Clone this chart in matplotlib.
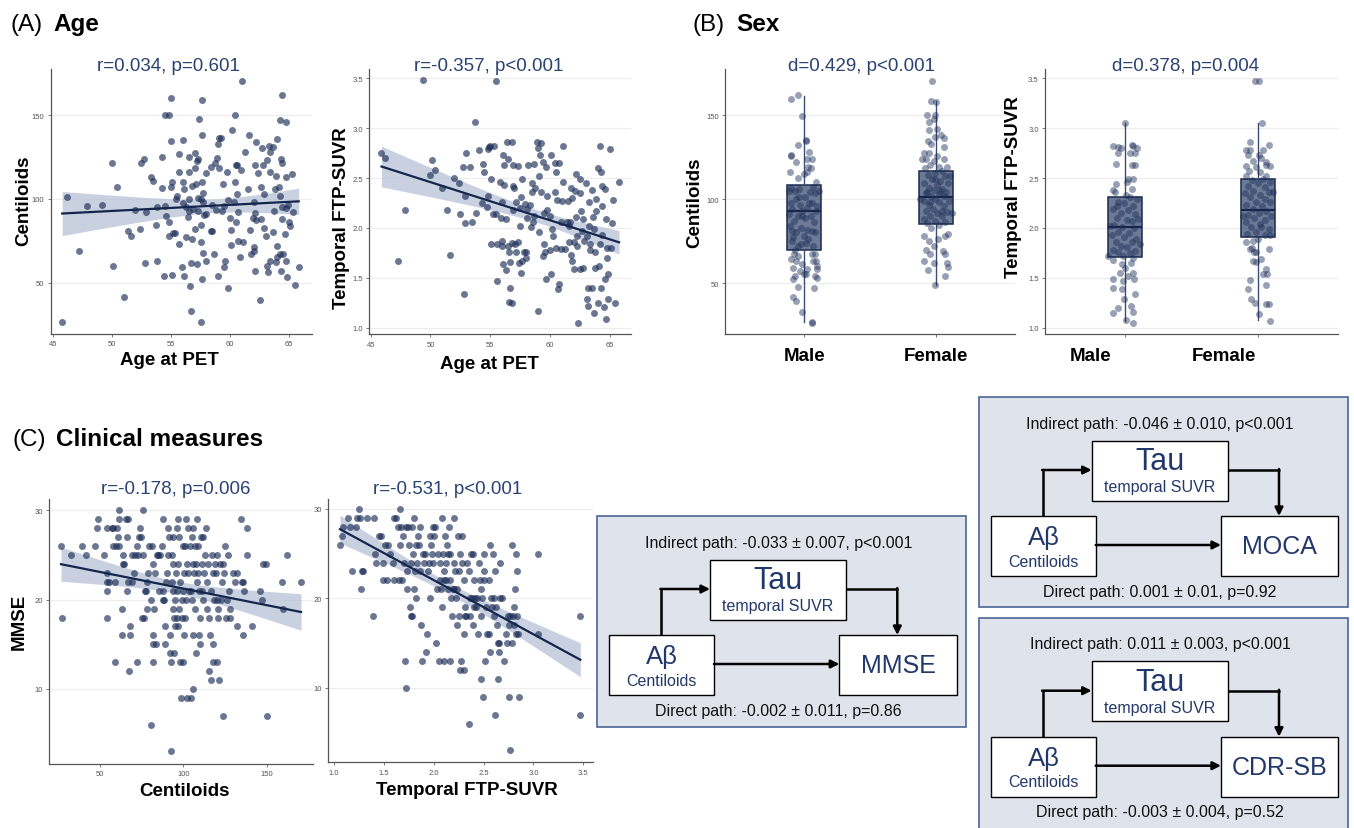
import numpy as np
import matplotlib
matplotlib.use("Agg")
import matplotlib.pyplot as plt
from matplotlib.patches import Rectangle
from matplotlib.transforms import ScaledTranslation

plt.rcParams['font.family'] = ['Liberation Sans', 'DejaVu Sans']

# ---------------- data ----------------
# (A) age vs centiloids
age1 = [45.8, 46.2, 47.2, 47.9, 49.2, 50.0, 50.1, 50.4, 51.0, 51.4,
        51.6, 52.0, 52.4, 52.5, 52.7, 52.8, 52.9, 53.3, 53.5, 53.7,
        53.8, 53.8, 54.2, 54.2, 54.4, 54.5, 54.5, 54.8, 54.6, 54.8,
        54.8, 55.0, 55.0, 55.0, 55.1, 55.2, 55.1, 55.3, 55.4, 55.5,
        55.7, 55.7, 55.7, 55.9, 56.0, 56.0, 56.0, 56.1, 56.1, 56.3,
        56.3, 56.4, 56.5, 56.5, 56.5, 56.5, 56.6, 56.7, 56.7, 56.8,
        56.8, 56.9, 57.0, 57.0, 57.0, 57.1, 57.2, 57.2, 57.3, 57.3,
        57.3, 57.4, 57.5, 57.6, 57.5, 57.5, 57.5, 57.6, 57.6, 57.6,
        57.7, 57.7, 57.7, 57.8, 58.0, 58.0, 58.0, 58.4, 58.4, 58.5,
        58.5, 58.6, 58.7, 58.8, 58.9, 59.0, 59.0, 59.1, 59.2, 59.1,
        59.3, 59.4, 59.5, 59.5, 59.6, 59.7, 59.8, 59.8, 60.0, 60.1,
        60.2, 60.1, 60.3, 60.4, 60.4, 60.5, 60.6, 60.5, 60.6, 60.7,
        60.8, 60.7, 60.9, 61.0, 61.1, 61.3, 61.5, 61.6, 61.7, 61.8,
        61.9, 62.0, 62.0, 62.0, 62.1, 62.2, 62.1, 62.1, 62.2, 62.4,
        62.5, 62.6, 62.6, 62.7, 62.8, 62.9, 62.9, 63.0, 63.1, 63.1,
        63.2, 63.3, 63.4, 63.4, 63.4, 63.6, 63.6, 63.7, 63.8, 63.9,
        63.9, 64.0, 64.0, 64.1, 64.0, 64.2, 64.2, 64.3, 64.4, 64.2,
        64.3, 64.4, 64.4, 64.4, 64.5, 64.7, 64.6, 64.7, 64.7, 64.7,
        64.8, 64.9, 65.1, 65.0, 65.2, 65.3, 65.5, 65.8]
cl1 = [27, 101, 69, 96, 96.6, 121.6, 60, 107, 41.7, 81,
       78, 93.7, 82, 121.4, 124, 61.7, 92.5, 113, 111, 84.5,
       63.3, 95.2, 124.8, 106.7, 54.4, 96, 150, 150, 90, 86,
       77.8, 134.7, 160, 107, 110, 80, 55, 80, 100, 102,
       116, 126.8, 73.2, 59.7, 135, 110, 97.6, 54.4, 106, 95.2,
       77.2, 89.5, 125, 116, 92.9, 100, 48.4, 33, 62, 108,
       76, 94, 127.4, 118.3, 82, 108.7, 122.8, 61, 124, 100.4,
       93, 147.6, 26.6, 159, 100, 84.7, 74.6, 110, 138, 52.4,
       67.7, 98.4, 103.4, 90.7, 115.5, 91, 63.3, 118.8, 81, 81,
       96.6, 67.3, 121.2, 93.7, 124.2, 132.7, 54.4, 136.3, 136.3, 118.5,
       93, 109, 96, 59.3, 63.3, 116, 47.2, 99.4, 88.5, 72.6,
       141, 81.7, 98, 150, 110.3, 86.5, 120, 120, 102.8, 75.2,
       65.5, 92, 117, 170.4, 74.6, 128.2, 106, 138, 81.7, 67,
       88.5, 71.2, 98.4, 69.2, 120, 133.7, 57.1, 91.7, 87.7, 115.5,
       39.9, 88, 107, 130.2, 120, 103, 83, 77.8, 123.4, 60,
       56.3, 131.7, 115.9, 63.3, 127.8, 80.6, 130.8, 93, 106, 62.3,
       113.5, 71.8, 65.5, 107.3, 135.7, 67, 101.6, 57.1, 88, 146.8,
       123.8, 161.9, 95, 121.2, 67.3, 63.1, 79.2, 112.9, 94.4, 145.6,
       53.4, 96.6, 83.7, 86, 115, 92.5, 48.8, 59.3]

# (A) age vs temporal FTP-SUVR
age2 = [45.9, 46.2, 47.9, 47.3, 49.4, 50.0, 50.1, 50.4, 51.0, 51.4,
        51.6, 52.0, 52.4, 52.5, 52.7, 52.8, 52.9, 52.9, 53.0, 53.3,
        53.5, 53.7, 53.8, 54.1, 54.3, 54.4, 54.5, 54.7, 54.8, 54.8,
        54.9, 55.0, 55.1, 55.1, 55.2, 55.3, 55.5, 55.5, 55.6, 55.6,
        55.8, 55.9, 56.0, 56.0, 56.0, 56.1, 56.1, 56.2, 56.2, 56.3,
        56.3, 56.4, 56.5, 56.5, 56.6, 56.6, 56.7, 56.7, 56.8, 56.8,
        56.8, 56.9, 56.9, 56.9, 57.0, 57.1, 57.2, 57.2, 57.3, 57.3,
        57.4, 57.5, 57.5, 57.6, 57.6, 57.7, 57.7, 57.8, 57.9, 58.0,
        58.0, 58.1, 58.1, 58.2, 58.3, 58.4, 58.5, 58.5, 58.6, 58.7,
        58.7, 58.8, 58.9, 59.0, 59.0, 59.1, 59.1, 59.2, 59.3, 59.3,
        59.4, 59.4, 59.5, 59.5, 59.6, 59.7, 59.7, 59.8, 59.8, 60.0,
        60.0, 60.1, 60.1, 60.2, 60.3, 60.4, 60.4, 60.5, 60.5, 60.6,
        60.7, 60.8, 60.8, 60.9, 60.9, 61.0, 61.1, 61.1, 61.3, 61.4,
        61.5, 61.6, 61.6, 61.7, 61.8, 61.8, 61.9, 61.9, 62.0, 62.0,
        62.1, 62.2, 62.2, 62.3, 62.3, 62.4, 62.5, 62.5, 62.5, 62.6,
        62.7, 62.8, 62.8, 62.9, 63.0, 63.1, 63.1, 63.2, 63.2, 63.3,
        63.3, 63.4, 63.4, 63.5, 63.5, 63.6, 63.7, 63.7, 63.8, 63.8,
        63.9, 63.9, 64.0, 64.0, 64.1, 64.2, 64.2, 64.3, 64.3, 64.4,
        64.4, 64.4, 64.5, 64.6, 64.6, 64.7, 64.7, 64.8, 64.8, 64.9,
        64.9, 65.0, 65.1, 65.2, 65.3, 65.5, 65.8]
ftp2 = [2.75, 2.70, 2.18, 1.67, 3.48, 2.53, 2.68, 2.58, 2.40, 2.18,
        1.73, 2.50, 2.45, 2.14, 2.61, 1.34, 2.05, 2.32, 2.75, 2.61,
        2.06, 3.06, 2.15, 2.78, 2.25, 2.64, 2.56, 2.21, 2.32, 2.79,
        2.81, 2.82, 2.49, 1.84, 2.14, 2.82, 3.47, 2.14, 1.84, 1.47,
        2.46, 2.10, 1.87, 2.26, 1.82, 2.73, 1.64, 2.63, 2.43, 2.09,
        1.58, 2.86, 2.69, 1.82, 1.26, 1.76, 1.40, 1.66, 1.85, 2.86,
        1.25, 2.18, 2.42, 2.63, 2.40, 1.84, 2.26, 1.76, 2.62, 1.86,
        1.65, 2.02, 2.20, 2.31, 1.55, 2.49, 1.67, 1.76, 2.24, 1.76,
        1.70, 2.19, 2.10, 2.63, 2.23, 2.01, 2.45, 2.36, 2.06, 2.12,
        2.64, 2.40, 2.86, 2.80, 1.17, 2.52, 1.96, 2.73, 2.85, 2.36,
        1.72, 2.66, 2.15, 1.84, 1.76, 2.61, 1.49, 2.18, 2.32, 1.78,
        2.12, 1.54, 2.73, 1.99, 1.92, 2.36, 2.65, 1.80, 2.56, 2.28,
        1.39, 1.44, 2.65, 2.06, 1.79, 2.27, 2.46, 2.82, 1.79, 2.06,
        2.27, 2.02, 1.86, 2.06, 1.73, 2.40, 2.30, 1.67, 1.86, 1.59,
        2.37, 2.54, 2.11, 1.92, 1.82, 1.05, 1.59, 2.49, 2.35, 2.17,
        1.97, 2.09, 1.60, 1.87, 2.45, 1.29, 1.92, 1.40, 1.22, 2.02,
        2.26, 1.78, 1.84, 1.40, 2.38, 2.11, 1.15, 1.99, 1.76, 1.60,
        2.17, 2.29, 1.25, 2.60, 1.62, 1.84, 2.82, 1.40, 2.56, 2.22,
        1.93, 2.42, 1.21, 1.49, 2.39, 2.09, 1.09, 1.70, 1.80, 1.54,
        1.29, 2.79, 1.80, 2.05, 2.28, 1.25, 2.46]

# (B) sex groups: jitter offsets and values
sex_labels = ['Male', 'Female']
m_cl_dx = [-0.096, -0.045, -0.013, 0.018, 0.013, -0.043, -0.096, -0.096, 0.038, 0.025,
           0.063, 0.033, 0.053, -0.063, 0.0, 0.020, -0.106, -0.050, 0.088, 0.068,
           -0.101, -0.068, -0.038, 0.043, 0.083, 0.008, -0.063, -0.101, -0.033, 0.063,
           0.025, -0.088, -0.013, -0.045, 0.050, 0.093, -0.113, 0.008, -0.076, 0.076,
           -0.025, 0.025, -0.093, -0.058, 0.058, 0.083, 0.0, -0.081, 0.033, -0.088,
           -0.025, 0.068, -0.050, -0.068, -0.078, 0.083, 0.058, -0.043, -0.101, -0.063,
           0.071, 0.088, -0.013, 0.101, -0.083, 0.025, 0.096, -0.033, 0.0, 0.018,
           -0.068, 0.083, 0.096, -0.081, -0.050, 0.078, -0.083, -0.058, -0.013, 0.058,
           0.063, -0.038, 0.038, -0.018, -0.113, 0.113, 0.101, -0.108, 0.018]
m_cl = [159.5, 161.9, 149.6, 135.1, 134.7, 132.1, 126.2, 125.4, 127.8, 123.8,
        123.8, 119.4, 118.3, 121.8, 114.9, 115.9, 115.9, 112.3, 109.9, 107.5,
        106.9, 105, 106.3, 104.4, 103.6, 101, 100, 97.6, 96.8, 97.6,
        95, 94.4, 93, 90, 90, 93, 91, 88.5, 87.1, 86.1,
        83.1, 81.7, 81.2, 80.6, 81.2, 80.2, 78.2, 77.2, 76.2, 75.2,
        73.2, 72.2, 72.2, 69.8, 67.3, 67.3, 67.3, 66.3, 64.3, 63.3,
        63.1, 63.1, 61.3, 60.3, 59.3, 58.7, 58.7, 57.1, 55.4, 55.4,
        54.4, 54.4, 53.2, 52.4, 47.8, 47.2, 41.7, 39.5, 33, 27,
        26.6, 101, 97.6, 90, 105, 105, 96, 84, 74.2]
f_cl_dx = [-0.030, -0.038, 0.0, -0.068, -0.005, -0.018, -0.055, -0.050, 0.008, 0.040,
           0.065, -0.010, -0.060, -0.035, 0.058, -0.093, -0.050, 0.008, 0.058, -0.076,
           -0.018, -0.043, 0.020, 0.083, -0.086, 0.045, -0.005, -0.060, 0.071, -0.030,
           0.033, -0.093, 0.091, 0.008, -0.055, 0.045, -0.018, 0.076, -0.076, 0.020,
           -0.035, 0.058, -0.005, -0.093, 0.096, 0.025, -0.055, 0.058, -0.023, -0.076,
           0.083, 0.008, -0.043, 0.045, -0.093, -0.010, 0.071, -0.068, 0.025, -0.035,
           -0.091, 0.091, 0.071, -0.055, 0.015, -0.018, -0.076, 0.050, 0.071, -0.043,
           -0.093, -0.018, 0.083, 0.091, -0.060, 0.071, -0.010, 0.121, -0.118, 0.108,
           -0.106, 0.033, -0.043, 0.045, -0.005, -0.068]
f_cl = [170.4, 158.5, 157.5, 150, 150, 147.6, 145.6, 141.3, 141.7, 138,
        136.3, 136.7, 134.7, 132.7, 131.3, 127.4, 127.4, 125.4, 123.8, 123.8,
        122.8, 120.2, 119.4, 119.4, 118.8, 116.9, 115.5, 114.3, 113.5, 111.9,
        110.9, 109.5, 109.5, 108.3, 106.9, 106.3, 105.6, 104.4, 103.6, 103,
        102, 101.6, 100, 99, 99, 98, 96.8, 96, 94.4, 93,
        92.5, 91.7, 90, 89.7, 88.1, 87.1, 86.5, 85.7, 84.7, 83.1,
        78.2, 79.2, 78.2, 75.2, 76.2, 72.2, 69.8, 69.2, 67.3, 67.3,
        63.3, 61.9, 61.9, 59.9, 58.1, 54.4, 48.8, 92, 100, 113.9,
        123.8, 105, 98, 93, 112, 104.4]
m_ftp_dx = [0.0, -0.088, -0.05, -0.033, 0.05, 0.063, 0.088, -0.05, 0.038, 0.075,
            -0.068, 0.075, 0.05, 0.025, 0.058, 0.013, -0.068, -0.093, 0.05, -0.075,
            0.008, 0.038, 0.088, -0.05, -0.008, 0.058, -0.088, 0.025, -0.033, 0.075,
            -0.063, 0.013, 0.05, -0.083, -0.025, 0.068, -0.05, 0.033, -0.1, -0.008,
            0.083, -0.068, 0.05, -0.033, 0.013, -0.093, 0.075, -0.05, 0.038, -0.018,
            0.063, -0.088, -0.025, 0.043, 0.0, -0.038, 0.058, 0.025, -0.093, -0.013,
            0.07, -0.093, -0.023, 0.075, -0.008, -0.05, 0.043, -0.088, 0.063, 0.008,
            0.058, -0.063, -0.113, 0.1, -0.125, 0.113]
m_ftp = [3.05, 2.82, 2.81, 2.80, 2.83, 2.82, 2.80, 2.75, 2.75, 2.75,
         2.64, 2.63, 2.63, 2.49, 2.49, 2.46, 2.44, 2.38, 2.39, 2.36,
         2.33, 2.31, 2.29, 2.26, 2.25, 2.22, 2.19, 2.18, 2.15, 2.14,
         2.10, 2.08, 2.07, 2.03, 2.01, 2.00, 1.96, 1.95, 1.93, 1.91,
         1.89, 1.86, 1.86, 1.82, 1.81, 1.78, 1.77, 1.76, 1.75, 1.72,
         1.70, 1.68, 1.64, 1.65, 1.60, 1.55, 1.55, 1.52, 1.49, 1.47,
         1.49, 1.40, 1.39, 1.34, 1.29, 1.20, 1.22, 1.15, 1.16, 1.08,
         1.05, 2.22, 2.02, 2.09, 1.72, 1.84]
f_ftp_dx = [-0.025, 0.008, 0.033, -0.058, 0.083, -0.088, -0.058, 0.038, -0.075, 0.008,
            0.025, -0.038, 0.063, -0.088, 0.058, -0.013, 0.088, -0.068, 0.018, -0.088,
            0.063, -0.043, 0.093, 0.0, -0.075, 0.05, -0.038, 0.083, -0.1, 0.013,
            -0.058, 0.05, -0.013, 0.093, -0.088, 0.033, -0.038, 0.063, 0.008, -0.075,
            0.1, -0.033, 0.05, -0.093, 0.018, -0.05, 0.083, -0.013, -0.083, 0.05,
            0.093, -0.038, -0.088, -0.043, -0.033, -0.058, 0.083, -0.013, 0.025, -0.038,
            -0.018, 0.063, 0.07, 0.038, -0.063, -0.075, 0.058, -0.05, -0.025, 0.063,
            0.083, 0.008, 0.093, 0.025, -0.113, 0.113, 0.0, 0.038]
f_ftp = [3.47, 3.47, 3.05, 2.86, 2.83, 2.78, 2.78, 2.78, 2.73, 2.73,
         2.70, 2.67, 2.66, 2.62, 2.63, 2.61, 2.62, 2.57, 2.56, 2.52,
         2.52, 2.48, 2.46, 2.45, 2.42, 2.41, 2.37, 2.36, 2.35, 2.33,
         2.31, 2.29, 2.26, 2.26, 2.23, 2.22, 2.19, 2.17, 2.15, 2.13,
         2.12, 2.10, 2.08, 2.06, 2.04, 2.01, 1.99, 1.96, 1.94, 1.93,
         1.93, 1.87, 1.86, 1.80, 1.76, 1.79, 1.79, 1.76, 1.69, 1.67,
         1.66, 1.59, 1.54, 1.54, 1.48, 1.39, 1.43, 1.29, 1.25, 1.24,
         1.24, 1.14, 1.07, 2.01, 2.12, 2.36, 1.89, 2.49]
# box statistics (whisker low, q1, median, q3, whisker high) per group
cl_box = [(27, 70, 93, 108.3, 161.5), (48.8, 85.5, 101.2, 116.7, 158.5)]
ftp_box = [(1.07, 1.71, 2.01, 2.31, 3.05), (1.08, 1.91, 2.18, 2.49, 3.05)]

# (C) centiloids vs MMSE
cl3 = [26.6, 27, 32.4, 39.4, 41.6, 47, 48.6, 48, 52.4, 54,
       54.4, 54.4, 54, 54.4, 55.6, 57, 57.6, 59, 58, 59.6,
       59, 60.4, 61, 61.6, 61.6, 61.6, 63, 63, 63.6, 64,
       64.4, 65.6, 66, 67, 66.4, 67.4, 67, 68, 68, 69,
       69, 70.4, 71, 72, 72.4, 73, 73.6, 74, 74.4, 75,
       75.6, 76.4, 76, 77, 77.6, 78, 78.4, 79, 79.6, 80.4,
       80.4, 81, 81.6, 82, 82, 82.4, 81.6, 83, 83.6, 84,
       85, 85.6, 86, 87, 87.6, 88, 88, 88.4, 89, 89,
       89.6, 90, 91, 91, 91.6, 92, 92, 92.4, 92.4, 93,
       93, 93.6, 93.6, 94, 94, 94.4, 94.4, 95, 95, 95.6,
       96, 96, 96.4, 96.6, 97, 97, 97.6, 97.6, 98, 98,
       98.4, 99, 99, 99.6, 99.6, 100, 100.4, 100.4, 101, 101,
       101.6, 101.6, 102, 102.4, 103, 103, 103.6, 104, 104.4, 104.4,
       105, 105, 105.6, 105.6, 106, 106, 106.4, 107, 107, 107.6,
       107.6, 108, 108.4, 109, 109, 109.4, 109.6, 110, 110, 110.4,
       111, 111, 111.6, 112, 112.4, 113, 113.6, 114, 114.4, 115,
       115.6, 115.6, 116, 116.4, 116.4, 117, 117.6, 118, 118, 118.4,
       119, 119.6, 120, 120, 120.4, 121, 121, 121.6, 122, 122.4,
       123, 123.6, 124, 124.4, 125, 125.6, 126, 127, 127.6, 128,
       128, 130, 131, 132.4, 132.4, 134.4, 135, 135.6, 136, 136.6,
       138, 138, 141.4, 146, 147, 148, 149.6, 150, 159, 160,
       162, 170.6]
mmse3 = [26, 18, 25, 26, 25, 26, 29, 28, 25, 28,
         23, 21, 18, 22, 22, 28, 28, 22, 26, 26,
         13, 28, 27, 30, 29, 26, 19, 16, 25, 24,
         24, 29, 27, 29, 21, 12, 22, 17, 16, 22,
         25, 23, 25, 13, 26, 25, 27, 28, 27, 18,
         30, 18, 25, 21, 21, 22, 19, 23, 26, 20,
         6, 26, 24, 16, 13, 19, 15, 23, 15, 25,
         25, 21, 25, 26, 20, 29, 21, 20, 17, 15,
         22, 23, 28, 25, 27, 16, 14, 3, 13, 25,
         22, 21, 19, 27, 24, 14, 18, 20, 17, 23,
         28, 21, 18, 17, 29, 24, 27, 19, 22, 13,
         9, 18, 20, 13, 21, 26, 23, 16, 26, 18,
         29, 20, 24, 9, 28, 23, 21, 26, 9, 21,
         27, 20, 28, 24, 10, 16, 23, 19, 26, 24,
         14, 29, 22, 26, 23, 16, 21, 15, 18, 27,
         24, 21, 27, 20, 23, 25, 28, 19, 22, 24,
         18, 12, 16, 21, 11, 25, 23, 15, 13, 20,
         24, 23, 13, 25, 20, 19, 18, 11, 24, 20,
         22, 24, 7, 23, 26, 18, 20, 25, 21, 19,
         18, 23, 22, 17, 23, 29, 22, 22, 16, 21,
         28, 25, 17, 21, 20, 24, 24, 7, 22, 19,
         25, 22]

# (C) temporal FTP-SUVR vs MMSE
ftp4 = [1.06, 1.08, 1.09, 1.14, 1.16, 1.18, 1.22, 1.23, 1.25, 1.26,
        1.27, 1.28, 1.29, 1.33, 1.39, 1.40, 1.41, 1.42, 1.45, 1.47,
        1.49, 1.49, 1.51, 1.53, 1.54, 1.56, 1.59, 1.60, 1.60, 1.62,
        1.64, 1.65, 1.66, 1.66, 1.67, 1.68, 1.69, 1.70, 1.71, 1.72,
        1.72, 1.73, 1.73, 1.74, 1.75, 1.76, 1.77, 1.77, 1.78, 1.78,
        1.79, 1.80, 1.80, 1.81, 1.82, 1.82, 1.83, 1.84, 1.85, 1.86,
        1.86, 1.87, 1.88, 1.89, 1.90, 1.91, 1.93, 1.92, 1.94, 1.95,
        1.96, 1.96, 1.97, 1.98, 1.99, 1.99, 2.00, 2.01, 2.02, 2.03,
        2.04, 2.05, 2.06, 2.06, 2.07, 2.08, 2.08, 2.09, 2.10, 2.10,
        2.10, 2.11, 2.12, 2.12, 2.13, 2.14, 2.14, 2.15, 2.16, 2.16,
        2.16, 2.17, 2.18, 2.19, 2.20, 2.20, 2.20, 2.21, 2.22, 2.23,
        2.23, 2.24, 2.25, 2.25, 2.26, 2.26, 2.27, 2.28, 2.28, 2.30,
        2.30, 2.30, 2.31, 2.31, 2.32, 2.33, 2.35, 2.35, 2.36, 2.36,
        2.37, 2.38, 2.39, 2.39, 2.40, 2.40, 2.41, 2.42, 2.43, 2.44,
        2.45, 2.46, 2.47, 2.47, 2.47, 2.48, 2.49, 2.50, 2.50, 2.50,
        2.51, 2.52, 2.53, 2.55, 2.55, 2.56, 2.56, 2.57, 2.58, 2.59,
        2.60, 2.60, 2.61, 2.61, 2.62, 2.63, 2.64, 2.64, 2.65, 2.65,
        2.66, 2.66, 2.68, 2.70, 2.72, 2.73, 2.74, 2.75, 2.75, 2.76,
        2.76, 2.78, 2.78, 2.79, 2.80, 2.80, 2.81, 2.82, 2.82, 2.83,
        2.84, 2.85, 2.86, 3.05, 3.05, 3.47, 3.47]
mmse4 = [26, 27, 28, 29, 28, 23, 28, 29, 30, 29,
         21, 23, 23, 29, 18, 29, 25, 24, 27, 27,
         24, 22, 26, 22, 26, 25, 24, 22, 29, 29,
         28, 22, 30, 26, 28, 22, 27, 24, 13, 10,
         28, 21, 23, 28, 26, 19, 18, 24, 18, 28,
         25, 29, 21, 23, 26, 20, 24, 27, 26, 23,
         28, 17, 13, 25, 24, 25, 16, 14, 23, 24,
         20, 27, 26, 25, 28, 24, 27, 28, 15, 21,
         25, 13, 24, 22, 21, 29, 19, 25, 13, 22,
         23, 27, 24, 22, 26, 25, 21, 28, 25, 13,
         22, 20, 18, 21, 29, 24, 21, 23, 20, 17,
         21, 27, 23, 18, 12, 25, 13, 24, 27, 16,
         12, 22, 18, 19, 18, 24, 6, 23, 20, 18,
         25, 20, 17, 25, 22, 19, 20, 19, 20, 16,
         24, 22, 11, 21, 18, 20, 9, 25, 23, 22,
         13, 19, 16, 16, 22, 26, 14, 20, 19, 25,
         18, 20, 7, 23, 19, 17, 15, 11, 15, 14,
         20, 24, 20, 13, 16, 15, 18, 17, 9, 3,
         18, 15, 26, 18, 19, 17, 21, 25, 16, 23,
         18, 16, 9, 25, 16, 18, 7]

stat_titles = ['r=0.034, p=0.601', 'r=-0.357, p<0.001', 'd=0.429, p<0.001',
               'd=0.378, p=0.004', 'r=-0.178, p=0.006', 'r=-0.531, p<0.001']
outcomes = ['MMSE', 'MOCA', 'CDR-SB']
indirect = ['Indirect path: -0.033 \u00b1 0.007, p<0.001',
            'Indirect path: -0.046 \u00b1 0.010, p<0.001',
            'Indirect path: 0.011 \u00b1 0.003, p<0.001']
direct = ['Direct path: -0.002 \u00b1 0.011, p=0.86',
          'Direct path: 0.001 \u00b1 0.01, p=0.92',
          'Direct path: -0.003 \u00b1 0.004, p=0.52']

# ---------------- styling ----------------
W, H = 1354, 829
NAVY = '#1c2d57'
TITLE_C = '#2a4272'
BOX_TXT = '#22386a'

fig = plt.figure(figsize=(W / 100, H / 100), dpi=100)
fig.patch.set_facecolor('white')


def px_axes(left, top, right, bottom):
    return fig.add_axes([left / W, 1 - bottom / H, (right - left) / W, (bottom - top) / H])


def style(ax, xt, yt, xfmt=None, yfmt=None):
    for s in ['top', 'right']:
        ax.spines[s].set_visible(False)
    for s in ['left', 'bottom']:
        ax.spines[s].set_color('#555555')
        ax.spines[s].set_linewidth(0.9)
    ax.set_yticks(yt)
    if yfmt:
        ax.set_yticklabels([yfmt % v for v in yt])
    if xt is not None:
        ax.set_xticks(xt)
        if xfmt:
            ax.set_xticklabels([xfmt % v for v in xt])
    ax.tick_params(labelsize=5.5, labelcolor='#555555', color='#666666', length=2.5, width=0.6, pad=2)
    ax.yaxis.grid(True, color='#ececec', lw=0.8)
    ax.set_axisbelow(True)


def reg_scatter(ax, x, y):
    x = np.asarray(x, float)
    y = np.asarray(y, float)
    b, a = np.polyfit(x, y, 1)
    n = len(x)
    resid = y - (a + b * x)
    s = np.sqrt(np.sum(resid ** 2) / (n - 2))
    sxx = np.sum((x - x.mean()) ** 2)
    xs = np.linspace(x.min(), x.max(), 100)
    fit = a + b * xs
    se = 1.97 * s * np.sqrt(1 / n + (xs - x.mean()) ** 2 / sxx)
    ax.fill_between(xs, fit - se, fit + se, color='#bcc5d8', alpha=0.8, lw=0, zorder=1)
    ax.scatter(x, y, s=25, color=NAVY, alpha=0.65, lw=0, zorder=2)
    ax.plot(xs, fit, color='#14264d', lw=1.6, zorder=3)


def box_jitter(ax, stats, groups):
    bx = []
    for st in stats:
        bx.append(dict(whislo=st[0], q1=st[1], med=st[2], q3=st[3], whishi=st[4], fliers=[]))
    ax.bxp(bx, positions=[1, 2], widths=0.26, patch_artist=True, showcaps=False, showfliers=False,
           boxprops=dict(facecolor=(0.20, 0.28, 0.43, 0.72), edgecolor='#1b2a4e', lw=1.1),
           medianprops=dict(color='#15244a', lw=1.6),
           whiskerprops=dict(color='#3b4d73', lw=1.0), zorder=2)
    for i, (dx, vals) in enumerate(groups):
        ax.scatter(np.asarray(dx) + i + 1, vals, s=25, color=NAVY, alpha=0.45, lw=0, zorder=3)


# (A) age
ax1 = px_axes(50.7, 70, 311.7, 335)
reg_scatter(ax1, age1, cl1)
ax1.set_xlim(44.83, 66.9)
ax1.set_ylim(19.6, 177.4)
style(ax1, [45, 50, 55, 60, 65], [50, 100, 150])

ax2 = px_axes(369.3, 70, 631, 335.3)
reg_scatter(ax2, age2, ftp2)
ax2.set_xlim(44.88, 66.8)
ax2.set_ylim(0.934, 3.593)
style(ax2, [45, 50, 55, 60, 65], [1.0, 1.5, 2.0, 2.5, 3.0, 3.5], yfmt='%.1f')

# (B) sex
ax3 = px_axes(725, 70, 1015, 335.3)
box_jitter(ax3, cl_box, [(m_cl_dx, m_cl), (f_cl_dx, f_cl)])
ax3.set_xlim(0.4, 2.6)
ax3.set_ylim(19.6, 177.4)
style(ax3, None, [50, 100, 150])
ax3.set_xticks([1, 2])
ax3.set_xticklabels(sex_labels)

ax4 = px_axes(1045, 70, 1338, 335.3)
box_jitter(ax4, ftp_box, [(m_ftp_dx, m_ftp), (f_ftp_dx, f_ftp)])
ax4.set_xlim(0.4, 2.6)
ax4.set_ylim(0.934, 3.593)
style(ax4, None, [1.0, 1.5, 2.0, 2.5, 3.0, 3.5], yfmt='%.1f')
ax4.set_xticks([1, 2])
ax4.set_xticklabels(sex_labels)

for ax in (ax3, ax4):
    ax.tick_params(axis='x', labelsize=13.5, labelcolor='black', pad=7)
    for lab in ax.get_xticklabels():
        lab.set_fontweight('bold')
shift = ScaledTranslation(-0.34, 0, fig.dpi_scale_trans)
for lab in ax4.get_xticklabels():
    lab.set_transform(lab.get_transform() + shift)

# (C) clinical
ax5 = px_axes(49.3, 500, 312.7, 765)
reg_scatter(ax5, cl3, mmse3)
ax5.set_xlim(19.6, 177.6)
ax5.set_ylim(1.6, 31.27)
style(ax5, [50, 100, 150], [10, 20, 30])

ax6 = px_axes(328.3, 500, 592.7, 763.3)
reg_scatter(ax6, ftp4, mmse4)
ax6.set_xlim(0.943, 3.594)
ax6.set_ylim(1.68, 31.1)
style(ax6, [1.0, 1.5, 2.0, 2.5, 3.0, 3.5], [10, 20, 30], xfmt='%.1f')

# overlay for text and diagrams, in pixel coordinates
ov = fig.add_axes([0, 0, 1, 1], zorder=5)
ov.set_xlim(0, W)
ov.set_ylim(H, 0)
ov.axis('off')
ov.patch.set_alpha(0)

# panel headers
for x0, letter, word, yb in [(10, '(A)', 'Age', 31), (693, '(B)', 'Sex', 31), (13, '(C)', 'Clinical measures', 446)]:
    ov.text(x0, yb, letter, fontsize=17.5, va='baseline', ha='left')
    ov.text(x0 + 43, yb, word, fontsize=17.5, va='baseline', ha='left', fontweight='bold')

# stat titles
for (cx, cy), s in zip([(168, 66), (489, 66), (862, 66), (1186, 66), (176, 490), (448, 490)], stat_titles):
    ov.text(cx, cy, s, fontsize=13.5, color=TITLE_C, ha='center', va='center')

# axis titles
lab_kw = dict(fontsize=13.5, fontweight='bold', ha='center', va='center')
ov.text(24, 201, 'Centiloids', rotation=90, **lab_kw)
ov.text(169, 360, 'Age at PET', **lab_kw)
ov.text(341, 218, 'Temporal FTP-SUVR', rotation=90, **lab_kw)
ov.text(489, 364, 'Age at PET', **lab_kw)
ov.text(695, 203, 'Centiloids', rotation=90, **lab_kw)
ov.text(1014, 187, 'Temporal FTP-SUVR', rotation=90, **lab_kw)
ov.text(19, 622, 'MMSE', rotation=90, **lab_kw)
ov.text(184, 792, 'Centiloids', **lab_kw)
ov.text(467, 791, 'Temporal FTP-SUVR', **lab_kw)


def arrow(x1, y1, x2, y2):
    ov.annotate('', xy=(x2, y2), xytext=(x1, y1),
                arrowprops=dict(arrowstyle='-|>', lw=1.8, color='black', mutation_scale=12,
                                shrinkA=0, shrinkB=0))


def mediation(x0, y0, hgt, outcome, ind_txt, dir_txt):
    ov.add_patch(Rectangle((x0, y0), 369, hgt, facecolor='#dfe3ec', edgecolor='#4c6594', lw=1.2))
    ov.text(x0 + 181, y0 + 26, ind_txt, fontsize=11.5, ha='center', va='center', color='#111111')
    ov.text(x0 + 181, y0 + 194, dir_txt, fontsize=11.5, ha='center', va='center', color='#111111')
    # boxes
    ov.add_patch(Rectangle((x0 + 112.7, y0 + 43.4), 136, 60, facecolor='white', edgecolor='black', lw=1.0))
    ov.add_patch(Rectangle((x0 + 12, y0 + 118.7), 104.7, 60, facecolor='white', edgecolor='black', lw=1.0))
    ov.add_patch(Rectangle((x0 + 242, y0 + 118.7), 117.4, 60, facecolor='white', edgecolor='black', lw=1.0))
    ov.text(x0 + 180.7, y0 + 64, 'Tau', fontsize=22, ha='center', va='center', color=BOX_TXT)
    ov.text(x0 + 180.7, y0 + 89, 'temporal SUVR', fontsize=11.5, ha='center', va='center', color=BOX_TXT)
    ov.text(x0 + 64.4, y0 + 140, 'A\u03b2', fontsize=18.5, ha='center', va='center', color=BOX_TXT)
    ov.text(x0 + 64.4, y0 + 164, 'Centiloids', fontsize=11.5, ha='center', va='center', color=BOX_TXT)
    ov.text(x0 + 300.7, y0 + 149, outcome, fontsize=18, ha='center', va='center', color=BOX_TXT)
    # paths
    ov.plot([x0 + 64, x0 + 64], [y0 + 118.7, y0 + 72.7], color='black', lw=1.8, solid_capstyle='butt')
    arrow(x0 + 63.1, y0 + 72.7, x0 + 112.7, y0 + 72.7)
    ov.plot([x0 + 248.7, x0 + 300.9], [y0 + 72.7, y0 + 72.7], color='black', lw=1.8, solid_capstyle='butt')
    arrow(x0 + 300, y0 + 71.8, x0 + 300, y0 + 118.7)
    arrow(x0 + 116.7, y0 + 147.7, x0 + 242, y0 + 147.7)


mediation(597.3, 517.3, 211, outcomes[0], indirect[0], direct[0])
mediation(979, 398.3, 210, outcomes[1], indirect[1], direct[1])
mediation(979, 619, 216, outcomes[2], indirect[2], direct[2])

fig.savefig('out.png', dpi=100)
